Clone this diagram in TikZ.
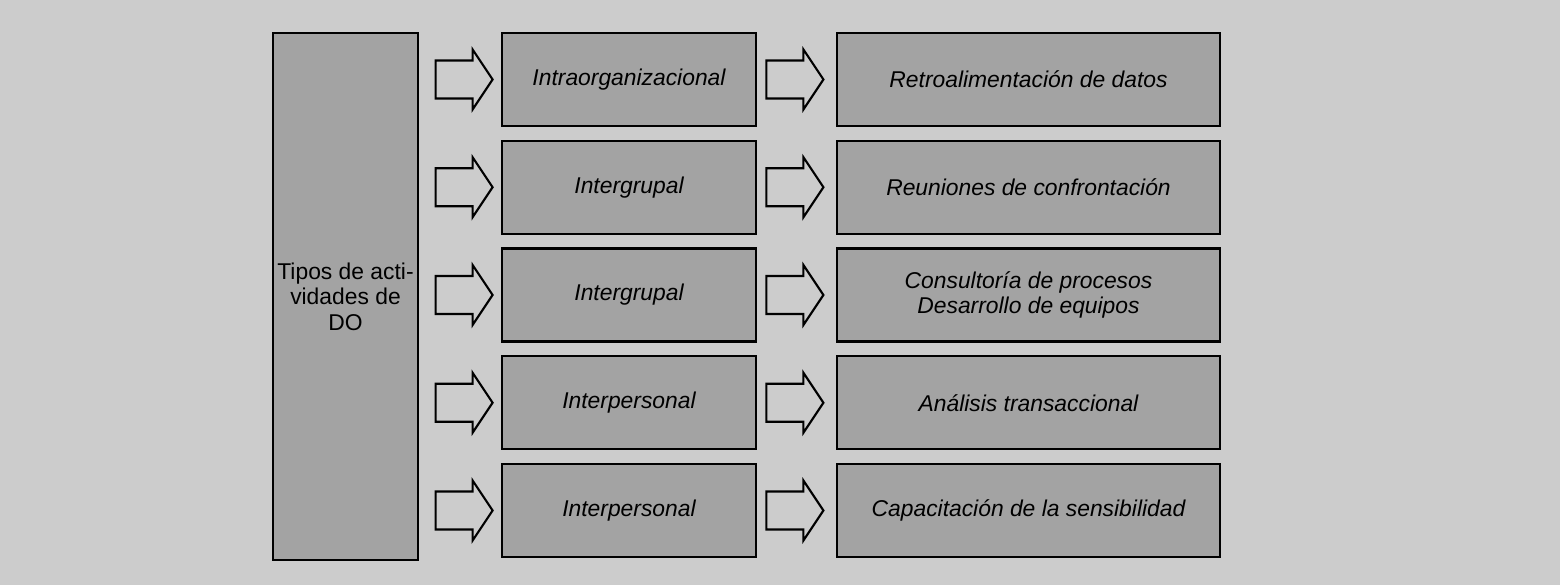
\documentclass[tikz,border=0pt]{standalone}
\usepackage{fontspec}
\setmainfont{Liberation Sans}
\usetikzlibrary{calc}
\definecolor{fondo}{gray}{0.80}
\definecolor{relleno}{gray}{0.64}
\tikzset{
  caja/.style={draw, line width=1.2pt, fill=relleno, minimum height=1.86cm,
    font=\fontsize{13}{14.5}\selectfont\itshape, inner sep=2pt},
  flecha/.pic={
    \draw[line width=1.2pt, fill=fondo] (-0.57,-0.38) -- (0.17,-0.38) -- (0.17,-0.6)
      -- (0.57,0) -- (0.17,0.6) -- (0.17,0.38) -- (-0.57,0.38) -- cycle;
  }
}
\begin{document}
\begin{tikzpicture}
  % Fondo gris del original, con sus márgenes.
  \fill[fondo] (0,0) rectangle (31.2,-11.7);
  \node[caja, minimum width=2.9cm, minimum height=10.54cm, align=center,
    font=\fontsize{13}{14.5}\selectfont] (tipos) at (6.91,-5.93) {Tipos de acti-\\vidades de\\DO};
  \foreach \i/\nivel/\tecnica in {1/Intraorganizacional/Retroalimentación de datos,
      2/Intergrupal/Reuniones de confrontación,
      3/Intergrupal/{Consultoría de procesos\\Desarrollo de equipos},
      4/Interpersonal/Análisis transaccional,
      5/Interpersonal/Capacitación de la sensibilidad} {
    \node[caja, minimum width=5.08cm] (nivel\i) at (12.58,{-1.59-2.155*(\i-1)}) {\nivel};
    \node[caja, minimum width=7.66cm, align=center] (tecnica\i) at (20.57,{-1.59-2.155*(\i-1)}) {\tecnica};
    \pic (fa\i) at ($(tipos.east |- nivel\i)!0.55!(nivel\i.west)$) {flecha};
    \pic (fb\i) at ($(nivel\i.east)!0.48!(tecnica\i.west)$) {flecha};
  }
\end{tikzpicture}
\end{document}
